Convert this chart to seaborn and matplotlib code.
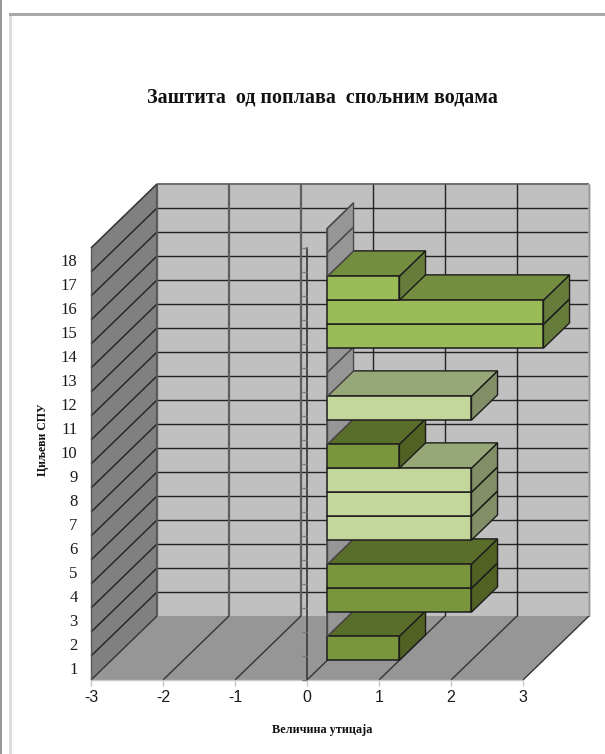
import matplotlib
matplotlib.use("Agg")
import matplotlib.pyplot as plt
from matplotlib.lines import Line2D
from matplotlib.patches import Polygon, Rectangle
import pandas as pd
import seaborn as sns

TITLE = "Заштита  од поплава  спољним водама"
X_LABEL = "Величина утицаја"
Y_LABEL = "Циљеви СПУ"

categories = list(range(1, 19))
impact = [1, 0, 2, 2, 0, 2, 2, 2, 1, 0, 2, 0, 0, 3, 3, 1, 0, 0]
tone = ["dark", "none", "dark", "dark", "none", "light", "light", "light", "dark",
        "none", "light", "none", "none", "mid", "mid", "mid", "none", "none"]
x_ticks = [-3, -2, -1, 0, 1, 2, 3]

FRONT = {"dark": "#7A963C", "light": "#C4D79B", "mid": "#9BBB59", "none": "#969696"}
TOP = {"dark": "#5A6E2C", "light": "#97A878", "mid": "#748E40", "none": "#969696"}
SIDE = {"dark": "#4F6224", "light": "#808F66", "mid": "#667C3A", "none": "#969696"}

# Oblique projection: depth 0..1 shifts a point right and up, in data units.
DX, DY = 66 / 72, 64 / 24
BAR_NEAR, BAR_FAR = 0.31, 0.705


def proj(x, y, d):
    return (x + DX * d, y + DY * d)


sns.set_theme(style="white")
plt.rcParams["font.family"] = ["Liberation Serif", "DejaVu Serif"]

W, H = 605, 754
fig = plt.figure(figsize=(W / 100, H / 100), dpi=100, facecolor="white")
ax = fig.add_axes([91 / W, (H - 680) / H, 498 / W, 496 / H])
ax.patch.set_visible(False)

frame_top = Rectangle((9 / W, 1 - 15.5 / H), 1, 2.5 / H, transform=fig.transFigure, color="#A8A8A8", lw=0)
frame_left = Rectangle((9 / W, 0), 3 / W, 1 - 13 / H, transform=fig.transFigure, color="#DDDDDD", lw=0)
frame_edge = Rectangle((0, 0), 1.5 / W, 1, transform=fig.transFigure, color="#999999", lw=0)
for r in (frame_left, frame_top, frame_edge):
    fig.add_artist(r)

data = pd.DataFrame({"category": categories, "impact": impact, "tone": tone})
sns.barplot(data=data, x="impact", y="category", hue="tone", palette=FRONT,
            orient="y", native_scale=True, width=1.0, dodge=False, legend=False,
            edgecolor="#1c1c1c", linewidth=1.1, saturation=1.0, ax=ax)
front_bars = list(ax.patches)

y0, y1 = 0.5, 18.5
x0, x1 = x_ticks[0], x_ticks[-1]
ax.set_xlim(x0, x1 + DX)
ax.set_ylim(y0, y1 + DY)


def face(points, color, z, edge=None, lw=0.0):
    ax.add_patch(Polygon(points, closed=True, facecolor=color, edgecolor=edge or color,
                         linewidth=lw, zorder=z, clip_on=False))


def line(a, b, color, lw, z):
    ax.add_line(Line2D([a[0], b[0]], [a[1], b[1]], color=color, lw=lw, zorder=z,
                       clip_on=False, solid_capstyle="butt"))


# Walls and floor of the chart box
face([proj(x0, y0, 1), proj(x1, y0, 1), proj(x1, y1, 1), proj(x0, y1, 1)], "#C0C0C0", 1)
face([proj(x0, y0, 0), proj(x0, y0, 1), proj(x0, y1, 1), proj(x0, y1, 0)], "#808080", 1)
face([proj(x0, y0, 0), proj(x1, y0, 0), proj(x1, y0, 1), proj(x0, y0, 1)], "#969696", 1)

# Gridlines on the walls
for n in range(1, 19):
    y = y0 + n
    color = "#222222" if n < 18 else "#6e6e6e"
    line(proj(x0, y, 1), proj(x1, y, 1), color, 1.0 if n < 18 else 1.4, 2)
    line(proj(x0, y, 0), proj(x0, y, 1), color, 1.0, 2)
for x in x_ticks:
    soft = x < 0
    line(proj(x, y0, 1), proj(x, y1, 1), "#5f5f5f" if soft else "#222222", 1.6 if soft else 1.0, 2)
    line(proj(x, y0, 0), proj(x, y0, 1), "#333333", 1.0, 2)
line(proj(x0, y0, 1), proj(x0, y1, 1), "#5a5a5a", 1.2, 2)
line(proj(x1, y0, 1), proj(x1, y1, 1), "#b0b0b0", 1.2, 2)
line(proj(x0, y0, 0), proj(x0, y1, 0), "#5a5a5a", 1.0, 2)
line(proj(x0, y1, 0), proj(x0, y1, 1), "#333333", 1.0, 2)
line(proj(x0, y0, 0), proj(x1, y0, 0), "#c8c8c8", 1.0, 2)

# Category axis standing on the zero plane, ticks pointing left
ax.add_line(Line2D([0, 0], [y0, y1], color="#404040", lw=1.3, zorder=3))
for n in range(0, 19):
    line((0, y0 + n), (-5 / 72, y0 + n), "#777777", 1.0, 3)

# Bars: each front from seaborn is moved to its depth, then gets side and top faces.
for bar in front_bars:
    height = bar.get_height()
    k = bar.get_y() + height / 2
    value = bar.get_width()
    level = tone[categories.index(round(k))]
    low, high = k - 0.5, k + 0.5
    z = 10 + 3 * k
    edge = "#1c1c1c" if value else "#4a4a4a"
    lx, ly = proj(0, low, BAR_NEAR)
    bar.set_x(lx)
    bar.set_y(ly)
    bar.set_zorder(z + 2)
    bar.set_clip_on(False)
    bar.set_edgecolor(edge)
    face([proj(value, low, BAR_NEAR), proj(value, low, BAR_FAR),
          proj(value, high, BAR_FAR), proj(value, high, BAR_NEAR)],
         SIDE[level], z, edge, 1.0)
    face([proj(0, high, BAR_NEAR), proj(value, high, BAR_NEAR),
          proj(value, high, BAR_FAR), proj(0, high, BAR_FAR)],
         TOP[level], z + 1, edge, 1.0)

ax.set_xticks(x_ticks)
ax.set_xticklabels([str(v) for v in x_ticks], family="Liberation Sans", fontsize=11.5)
ax.set_yticks(categories)
ax.set_yticklabels([str(c) for c in categories], fontsize=12)
ax.tick_params(axis="x", length=4, width=1, color="#c8c8c8", pad=3.5, labelcolor="#1a1a1a", bottom=True)
ax.tick_params(axis="y", length=0, pad=9.7, labelcolor="#1a1a1a")
for spine in ax.spines.values():
    spine.set_visible(False)

ax.set_xlabel(X_LABEL, fontsize=8.8, fontweight="bold", color="#111111")
ax.xaxis.set_label_coords((322 - 91) / 498, -(730 - 680) / 496)
ax.xaxis.label.set_verticalalignment("center")
ax.set_ylabel(Y_LABEL, fontsize=8.5, fontweight="bold", color="#111111")
ax.yaxis.set_label_coords((43 - 91) / 498, (680 - 440) / 496)
ax.yaxis.label.set_verticalalignment("center")
fig.text(322.5 / W, 1 - 98 / H, TITLE, ha="center", va="center", fontsize=14.4,
         fontweight="bold", color="#111111")

fig.savefig("out.png", dpi=100)
